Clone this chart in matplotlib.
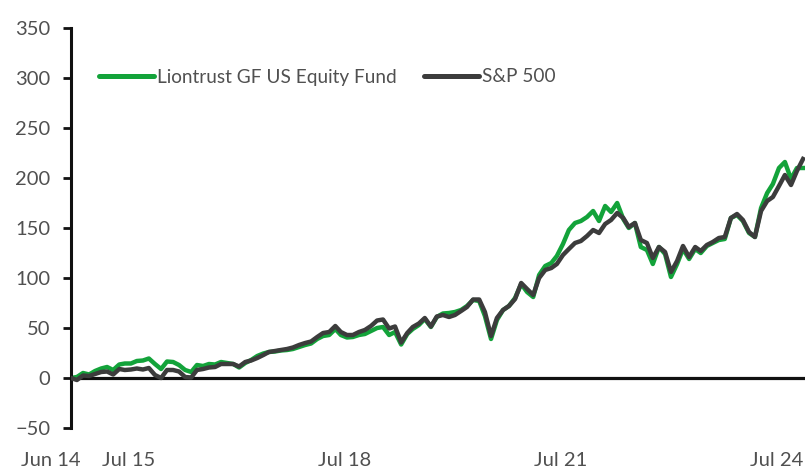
import numpy as np
import pandas as pd
import matplotlib
matplotlib.use('Agg')
import matplotlib.pyplot as plt
import matplotlib.transforms as mtransforms

# monthly cumulative performance (%), month ends from May 2014
dates = pd.date_range('2014-05-31', periods=123, freq='ME')

fund = [0, 1, 5, 3.5, 7, 9.5, 11, 8, 13.5, 14.5,
        14.5, 17, 17.5, 19.5, 14, 9, 16.5, 16, 13, 8,
        6, 13, 12, 14, 13.5, 16, 15, 14, 10.5, 15,
        18, 22, 24.5, 26, 26.5, 27.5, 28, 29, 31, 33,
        34.5, 39, 42, 43, 49, 43, 40.5, 41, 43, 44,
        47, 50, 51, 43, 46, 33.5, 44, 49, 53, 59,
        51, 61, 64.5, 65, 66, 68, 72, 78, 77, 62,
        39, 58, 68, 72, 80, 94, 86, 81, 103, 112,
        115, 122, 134, 148, 155, 157, 161, 167, 157, 172,
        166, 175, 159, 150, 155, 131, 128, 114, 131, 124,
        101, 114, 129, 119, 129, 125, 132, 135, 138, 139,
        160, 163, 157, 145, 141, 170, 185, 194, 210, 216,
        199, 210, 210]

sp500 = [0, -2, 2.5, 2, 4, 6, 6.5, 3.5, 9, 8,
         8.5, 9.5, 8.5, 10, 3, 0, 8, 8, 6.5, 1,
         0.5, 8, 9, 10.5, 11, 14, 14, 14, 11.5, 16,
         17.5, 20, 23, 26, 27, 28, 29, 30.5, 33, 35,
         36.5, 41, 45, 46, 52, 46, 43, 43, 46, 48,
         52, 57.5, 58.5, 49.5, 51.5, 35.5, 45, 51, 54.5, 60,
         51.5, 61.5, 63, 61, 63, 67, 71, 78.5, 78.5, 66,
         42, 60, 68, 72, 79, 95, 89, 83, 100, 108,
         110, 114, 123, 129, 135, 137, 142, 148, 145, 154,
         158, 165, 160, 151, 155, 138, 135, 120, 131, 126,
         106, 117, 132, 121, 131, 127, 133, 136, 140, 141,
         160, 164, 158, 146, 141, 167, 177, 181, 192, 203,
         193, 207, 219]

tick_dates = pd.to_datetime(['2014-06-30', '2015-07-31', '2018-07-31',
                             '2021-07-31', '2024-07-31'])
tick_labels = ['Jun 14', 'Jul 15', 'Jul 18', 'Jul 21', 'Jul 24']

plt.rcParams['font.family'] = ['Lato', 'DejaVu Sans']
txt = '#505050'

fig = plt.figure(figsize=(8.05, 4.71), dpi=100)
ax = fig.add_axes([71/805, 43/471, 734/805, 400/471])

ax.axhline(0, color='#111111', lw=2.3, zorder=1)
ax.plot(dates, fund, color='#13a33a', lw=3.2, label='Liontrust GF US Equity Fund', zorder=2)
ax.plot(dates, sp500, color='#3c3c3c', lw=3.2, label='S&P 500', zorder=3)

ax.set_ylim(-50, 350)
ax.set_yticks(np.arange(-50, 351, 50))
ax.set_xlim(dates[0], dates[-1] + pd.Timedelta(days=10))

for s in ['top', 'right', 'bottom']:
    ax.spines[s].set_visible(False)
ax.spines['left'].set_color('#111111')
ax.spines['left'].set_linewidth(2.2)

ax.tick_params(axis='y', length=6, width=2, color='#111111', pad=9,
               labelsize=14.5, labelcolor=txt)
ax.set_xticks(tick_dates)
ax.set_xticklabels(tick_labels)
ax.tick_params(axis='x', length=0, pad=17, labelsize=14.5, labelcolor=txt)
shift = mtransforms.ScaledTranslation(-0.26, 0, fig.dpi_scale_trans)
for lab in ax.get_xticklabels():
    lab.set_transform(lab.get_transform() + shift)

leg = ax.legend(loc='center left', bbox_to_anchor=(0.038, 0.8775), ncol=2,
                frameon=False, fontsize=13.7, handlelength=2.9, handletextpad=0.15,
                columnspacing=1.45, borderaxespad=0, borderpad=0)
for t in leg.get_texts():
    t.set_color(txt)
for h in leg.get_lines():
    h.set_linewidth(3.6)
    h.set_solid_capstyle('round')

fig.savefig('out.png', dpi=100)
